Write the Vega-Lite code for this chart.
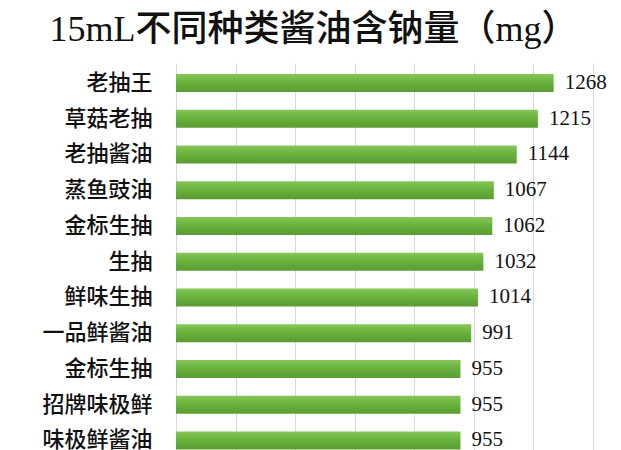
{
  "$schema": "https://vega.github.io/schema/vega-lite/v6.json",
  "width": 417,
  "height": 387,
  "autosize": "none",
  "padding": {"left": 176, "top": 63, "right": 28, "bottom": 0},
  "background": "white",
  "title": {
    "text": "15mL不同种类酱油含钠量（mg）",
    "font": "Liberation Serif, Noto Sans CJK SC",
    "fontSize": 36,
    "fontWeight": 500,
    "color": "#111111",
    "anchor": "middle",
    "dx": -71,
    "offset": 14
  },
  "data": {
    "values": [
      {"name": "老抽王", "value": 1268},
      {"name": "草菇老抽", "value": 1215},
      {"name": "老抽酱油", "value": 1144},
      {"name": "蒸鱼豉油", "value": 1067},
      {"name": "金标生抽", "value": 1062},
      {"name": "生抽", "value": 1032},
      {"name": "鲜味生抽", "value": 1014},
      {"name": "一品鲜酱油", "value": 991},
      {"name": "金标生抽\u200b", "value": 955},
      {"name": "招牌味极鲜", "value": 955},
      {"name": "味极鲜酱油", "value": 955}
    ]
  },
  "encoding": {
    "y": {
      "field": "name",
      "type": "nominal",
      "sort": null,
      "scale": {"paddingInner": 0.5, "paddingOuter": 0.162, "align": 0.95},
      "axis": {
        "title": null,
        "domain": false,
        "ticks": false,
        "labelFont": "Noto Sans CJK SC",
        "labelFontSize": 22,
        "labelFontWeight": 500,
        "labelColor": "#111111",
        "labelPadding": 24
      }
    },
    "x": {
      "field": "value",
      "type": "quantitative",
      "scale": {"domain": [0, 1400], "nice": false},
      "axis": {
        "title": null,
        "labels": false,
        "ticks": false,
        "domain": false,
        "values": [0, 200, 400, 600, 800, 1000, 1200, 1400],
        "grid": true,
        "gridColor": "#d9d9d9",
        "gridWidth": 1
      }
    }
  },
  "layer": [
    {
      "mark": {
        "type": "bar",
        "color": {
          "gradient": "linear",
          "x1": 0, "y1": 0, "x2": 0, "y2": 1,
          "stops": [
            {"offset": 0, "color": "#86c65a"},
            {"offset": 0.45, "color": "#69b33c"},
            {"offset": 1, "color": "#5a9c33"}
          ]
        }
      }
    },
    {
      "mark": {
        "type": "text",
        "align": "left",
        "baseline": "middle",
        "dx": 11,
        "font": "Liberation Serif",
        "fontSize": 21,
        "color": "#111111"
      },
      "encoding": {"text": {"field": "value", "type": "quantitative"}}
    }
  ],
  "config": {"view": {"stroke": null}}
}
